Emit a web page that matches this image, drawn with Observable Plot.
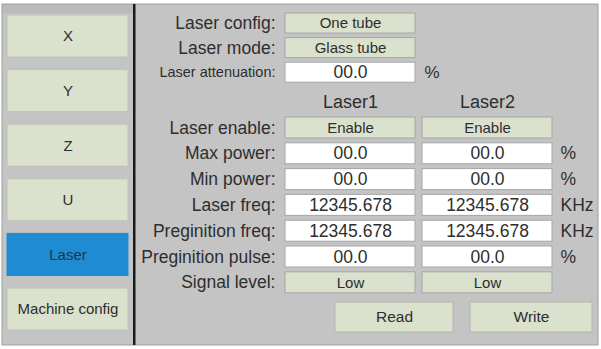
<!DOCTYPE html>
<html><head><meta charset="utf-8">
<script src="https://cdn.jsdelivr.net/npm/d3@7"></script>
<script src="https://cdn.jsdelivr.net/npm/@observablehq/plot@0.6"></script>
<style>
html,body{margin:0;padding:0;background:#ffffff;}
#chart svg{display:block;}
</style>
</head><body><div id="chart"></div>
<script>
// ---- content ----
const navItems = ["X", "Y", "Z", "U", "Laser", "Machine config"];
const activeNav = "Laser";
const topLabels = ["Laser config:", "Laser mode:", "Laser attenuation:"];
const topValues = ["One tube", "Glass tube", "00.0"];
const topKinds = ["select", "select", "input"];
const topUnits = ["", "", "%"];
const laserHeaders = ["Laser1", "Laser2"];
const paramLabels = ["Laser enable:", "Max power:", "Min power:", "Laser freq:", "Preginition freq:", "Preginition pulse:", "Signal level:"];
const laser1Values = ["Enable", "00.0", "00.0", "12345.678", "12345.678", "00.0", "Low"];
const laser2Values = ["Enable", "00.0", "00.0", "12345.678", "12345.678", "00.0", "Low"];
const paramKinds = ["select", "input", "input", "input", "input", "input", "select"];
const paramUnits = ["", "%", "%", "KHz", "KHz", "%", ""];
const actions = ["Read", "Write"];

// ---- layout (separate from data) ----
const W = 601, H = 349;
const L = {
  navX1: 7, navX2: 128, navY0: 15, navPitch: 54.6, navH: 42,
  labelX: 275,
  colX: [[285, 415], [422, 552]],
  unitX: 560, topUnitX: 424,
  topY0: 13, topPitch: 24.6, topH: 20,
  headerY: 102,
  parY0: 117, parPitch: 25.8, parH: 21,
  actX: [[335, 453], [470, 592]], actY1: 302, actY2: 332
};
const C = {
  bg: "#c4c4c4", btn: "#dae1cd", blue: "#1f8bd2", white: "#ffffff",
  boxStroke: "#a6a6a6", text: "#2e2e2e"
};

const rects = [];
const texts = [];

// nav buttons
navItems.forEach((name, i) => {
  const y1 = L.navY0 + i * L.navPitch, y2 = y1 + L.navH;
  const active = name === activeNav;
  rects.push({x1: L.navX1, x2: L.navX2, y1, y2, fill: active ? C.blue : C.btn, stroke: active ? C.blue : "#bfc4b4"});
  texts.push({x: (L.navX1 + L.navX2) / 2, y: (y1 + y2) / 2, text: name, size: 15, anchor: "middle", fill: active ? "#1d3552" : C.text});
});

// top rows
topLabels.forEach((lab, i) => {
  const y1 = L.topY0 + i * L.topPitch, y2 = y1 + L.topH, yc = (y1 + y2) / 2;
  const [x1, x2] = L.colX[0];
  const input = topKinds[i] === "input";
  rects.push({x1, x2, y1, y2, fill: input ? C.white : C.btn, stroke: C.boxStroke});
  texts.push({x: L.labelX, y: yc, text: lab, size: i === 2 ? 14.5 : 17.5, anchor: "end", fill: C.text});
  texts.push({x: (x1 + x2) / 2, y: yc, text: topValues[i], size: input ? 17.5 : 15, anchor: "middle", fill: C.text});
  if (topUnits[i]) texts.push({x: L.topUnitX, y: yc, text: topUnits[i], size: 17, anchor: "start", fill: C.text});
});

// headers
laserHeaders.forEach((h, j) => {
  const [x1, x2] = L.colX[j];
  texts.push({x: (x1 + x2) / 2, y: L.headerY, text: h, size: 18, anchor: "middle", fill: C.text});
});

// parameter rows
const laserValues = [laser1Values, laser2Values];
paramLabels.forEach((lab, i) => {
  const y1 = L.parY0 + i * L.parPitch, y2 = y1 + L.parH, yc = (y1 + y2) / 2;
  const input = paramKinds[i] === "input";
  texts.push({x: L.labelX, y: yc, text: lab, size: 17.5, anchor: "end", fill: C.text});
  laserValues.forEach((vals, j) => {
    const [x1, x2] = L.colX[j];
    rects.push({x1, x2, y1, y2, fill: input ? C.white : C.btn, stroke: C.boxStroke});
    texts.push({x: (x1 + x2) / 2, y: yc, text: vals[i], size: input ? 17.5 : 15, anchor: "middle", fill: C.text});
  });
  if (paramUnits[i]) texts.push({x: L.unitX, y: yc, text: paramUnits[i], size: 17.5, anchor: "start", fill: C.text});
});

// action buttons
actions.forEach((a, j) => {
  const [x1, x2] = L.actX[j];
  rects.push({x1, x2, y1: L.actY1, y2: L.actY2, fill: C.btn, stroke: "#b3b8a8"});
  texts.push({x: (x1 + x2) / 2, y: (L.actY1 + L.actY2) / 2, text: a, size: 15.5, anchor: "middle", fill: C.text});
});

const frame = [
  {x1: 2, x2: 598, y1: 4, y2: 345, fill: C.bg},
  {x1: 2, x2: 133, y1: 4, y2: 13, fill: "#bbbbbb"}
];
const divider = [{x1: 133, x2: 135.5, y1: 4, y2: 345}];

const chart = Plot.plot({
  width: W, height: H,
  margin: 0,
  x: {domain: [0, W], range: [0, W], axis: null},
  y: {domain: [0, H], range: [0, H], axis: null},
  style: {background: "#ffffff", fontFamily: "'Liberation Sans', Arial, sans-serif"},
  marks: [
    Plot.rect(frame, {x1: "x1", x2: "x2", y1: "y1", y2: "y2", fill: d => d.fill}),
    Plot.rect(frame.slice(0,1), {x1: "x1", x2: "x2", y1: "y1", y2: "y2", fill: "none", stroke: "#a0a0a0", strokeWidth: 1}),
    Plot.rect(divider, {x1: "x1", x2: "x2", y1: "y1", y2: "y2", fill: "#1a1a1a"}),
    Plot.rect(rects, {x1: "x1", x2: "x2", y1: "y1", y2: "y2", fill: d => d.fill, stroke: d => d.stroke, strokeWidth: 1}),
    Plot.text(texts.filter(d => d.anchor === "middle"), {x: "x", y: "y", text: "text", fontSize: d => d.size, fill: d => d.fill, textAnchor: "middle"}),
    Plot.text(texts.filter(d => d.anchor === "end"), {x: "x", y: "y", text: "text", fontSize: d => d.size, fill: d => d.fill, textAnchor: "end"}),
    Plot.text(texts.filter(d => d.anchor === "start"), {x: "x", y: "y", text: "text", fontSize: d => d.size, fill: d => d.fill, textAnchor: "start"})
  ]
});
document.getElementById("chart").appendChild(chart);
</script>
</body></html>
